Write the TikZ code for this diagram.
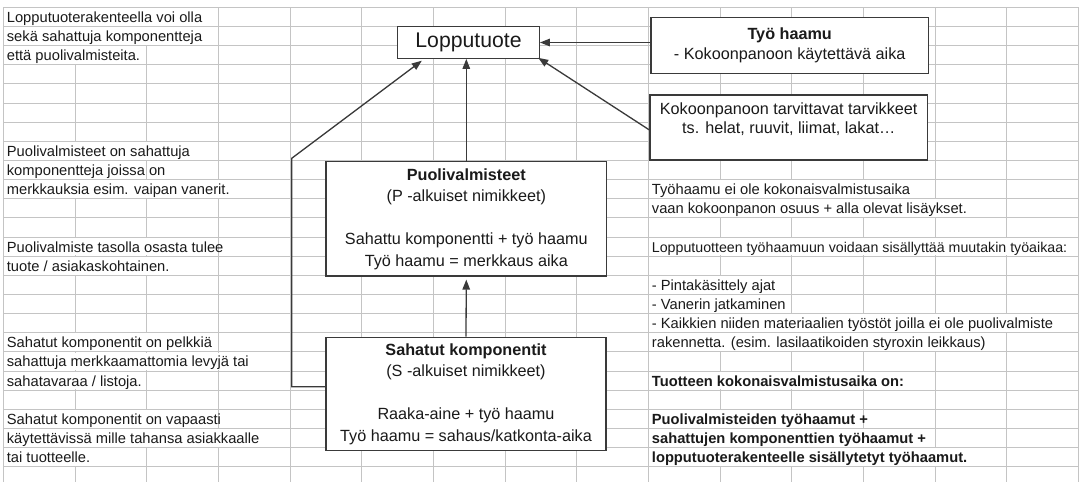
\documentclass[tikz,border=0pt]{standalone}
\usepackage{fontspec}
\setmainfont{Liberation Sans}
\usetikzlibrary{arrows.meta,calc}
\definecolor{gridc}{HTML}{C4C4C4}
\definecolor{ink}{HTML}{1A1A1A}
\definecolor{boxc}{HTML}{3A3A3A}
\newcommand\cellfont{\fontsize{14.7}{17}\selectfont}
\newcommand\boxfont{\fontsize{16.2}{21.5}\selectfont}
% #1 row, #2 first column, #3 column line where overflow ends, #4 node name, #5 text
\newcommand\cellline[5]{%
  \fill[white] ({3.3+71.67*#2+0.7},{7.3+19.14*#1+0.7}) rectangle ({3.3+71.67*#3-0.7},{7.3+19.14*(#1+1)-0.7});
  \node[txt] (#4) at ({3.3+71.67*#2+3.4},{7.3+19.14*(#1+1)-4}) {#5};
}
\begin{document}
\begin{tikzpicture}[x=1pt,y=-1pt,
  txt/.style={anchor=base west,inner sep=0pt,font=\cellfont,text=ink},
  gridline/.style={draw=gridc,line width=0.9pt},
  box/.style={draw=boxc,fill=white,line width=1.2pt,inner sep=0pt,align=center,font=\boxfont,text=ink},
  arr/.style={draw=boxc,line width=1.3pt,-{Triangle[length=10pt,width=7.5pt]}}]
\useasboundingbox (0,0) rectangle (1079,482);
\fill[white] (0,0) rectangle (1079,482);
% spreadsheet grid
\foreach \k in {0,...,15} \draw[gridline] ({3.3+71.67*\k},7.3) -- ({3.3+71.67*\k},482);
\foreach \j in {0,...,24} \draw[gridline] (3.3,{7.3+19.14*\j}) -- (1079,{7.3+19.14*\j});
% left column texts
\cellline{0}{0}{3}{l0}{Lopputuoterakenteella voi olla}
\cellline{1}{0}{3}{l1}{sekä sahattuja komponentteja}
\cellline{2}{0}{2}{l2}{että puolivalmisteita.}
\cellline{7}{0}{3}{l7}{Puolivalmisteet on sahattuja}
\cellline{8}{0}{2}{l8}{komponentteja joissa on}
\cellline{9}{0}{4}{l9}{merkkauksia esim. vaipan vanerit.}
\cellline{12}{0}{3}{l12}{Puolivalmiste tasolla osasta tulee}
\cellline{13}{0}{3}{l13}{tuote / asiakaskohtainen.}
\cellline{17}{0}{3}{l17}{Sahatut komponentit on pelkkiä}
\cellline{18}{0}{4}{l18}{sahattuja merkkaamattomia levyjä tai}
\cellline{19}{0}{2}{l19}{sahatavaraa / listoja.}
\cellline{21}{0}{3}{l21}{Sahatut komponentit on vapaasti}
\cellline{22}{0}{4}{l22}{käytettävissä mille tahansa asiakkaalle}
\cellline{23}{0}{2}{l23}{tai tuotteelle.}
% right column texts
\cellline{9}{9}{13}{r9}{Työhaamu ei ole kokonaisvalmistusaika}
\cellline{10}{9}{14}{r10}{vaan kokoonpanon osuus + alla olevat lisäykset.}
\cellline{12}{9}{15}{r12}{\fontsize{14.2}{17}\selectfont Lopputuotteen työhaamuun voidaan sisällyttää muutakin työaikaa:}
\cellline{14}{9}{11}{r14}{- Pintakäsittely ajat}
\cellline{15}{9}{11}{r15}{- Vanerin jatkaminen}
\cellline{16}{9}{15}{r16}{- Kaikkien niiden materiaalien työstöt joilla ei ole puolivalmiste}
\cellline{17}{9}{14}{r17}{rakennetta. (esim. lasilaatikoiden styroxin leikkaus)}
\cellline{19}{9}{13}{r19}{\bfseries Tuotteen kokonaisvalmistusaika on:}
\cellline{21}{9}{12}{r21}{\bfseries Puolivalmisteiden työhaamut +}
\cellline{22}{9}{13}{r22}{\bfseries sahattujen komponenttien työhaamut +}
\cellline{23}{9}{14}{r23}{\bfseries lopputuoterakenteelle sisällytetyt työhaamut.}
% boxes
\node[box,minimum width=141.6pt,minimum height=31.6pt,font=\fontsize{21.2}{24}\selectfont] (lop) at (468.5,42.5) {Lopputuote};
\node[box,minimum width=277.3pt,minimum height=56pt,font=\fontsize{16.2}{20.6}\selectfont] (tyo) at (789.7,45.3)
  {\textbf{Työ haamu}\\- Kokoonpanoon käytettävä aika};
\node[box,minimum width=277.3pt,minimum height=65pt,font=\fontsize{16.2}{19}\selectfont] (kok) at (788.7,127.5)
  {Kokoonpanoon tarvittavat tarvikkeet\\ts. helat, ruuvit, liimat, lakat…\\\mbox{}};
\node[box,minimum width=280.7pt,minimum height=114.3pt] (puoli) at (466.3,218.85)
  {\textbf{Puolivalmisteet}\\(P -alkuiset nimikkeet)\\[21.5pt]Sahattu komponentti + työ haamu\\Työ haamu = merkkaus aika};
\node[box,minimum width=280pt,minimum height=113.4pt] (sah) at (466,394)
  {\textbf{Sahatut komponentit}\\(S -alkuiset nimikkeet)\\[21.4pt]Raaka-aine + työ haamu\\Työ haamu = sahaus/katkonta-aika};
% connectors
\coordinate (bendlow) at (291.7,386.7);
\coordinate (bendhigh) at (291.7,158.3);
\draw[arr] (lop.east -| tyo.west) -- (lop.east);
\draw[arr,shorten >=-2pt] ([yshift=-2.5pt]kok.west) -- (lop.south east);
\draw[arr] (puoli.north) -- (puoli.north |- lop.south);
\draw[arr,shorten >=3pt] (sah.north) -- (puoli.south);
\draw[arr,shorten >=3pt] (bendlow -| sah.west) -- (bendlow) -- (bendhigh) -- ($(lop.south west)!0.19!(lop.south east)$);
\end{tikzpicture}
\end{document}
